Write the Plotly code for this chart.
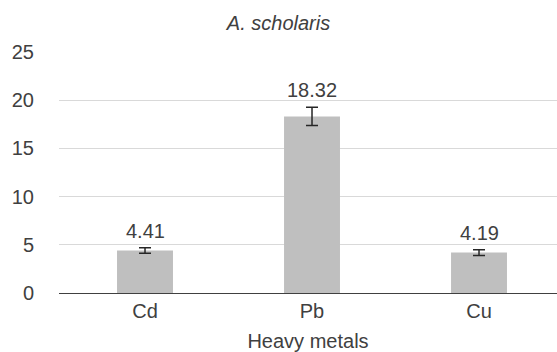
import plotly.graph_objects as go

categories = ["Cd", "Pb", "Cu"]
values = [4.41, 18.32, 4.19]
errors = [0.28, 0.95, 0.29]
label_texts = ["4.41", "18.32", "4.19"]
y_ticks = [0, 5, 10, 15, 20, 25]

FONT = "Liberation Sans, Arial, sans-serif"
TXT = "#404040"

fig = go.Figure()
fig.add_trace(go.Bar(
    x=[0, 1, 2],
    y=values,
    width=0.335,
    marker=dict(color="#BFBFBF", line=dict(width=0)),
    error_y=dict(type="data", array=errors, visible=True,
                 color="#262626", thickness=1.5, width=6),
    hoverinfo="skip",
))

for i, (v, e, t) in enumerate(zip(values, errors, label_texts)):
    fig.add_annotation(x=i, y=v + e, text=t, showarrow=False,
                       yanchor="middle", yshift=17,
                       font=dict(family=FONT, size=20, color=TXT))

fig.update_layout(
    width=557, height=352,
    margin=dict(l=59, r=0, t=52, b=59),
    paper_bgcolor="white", plot_bgcolor="white",
    showlegend=False,
    font=dict(family=FONT, size=20, color=TXT),
    title=dict(text="<i>A. scholaris</i>", x=0.5, xanchor="center",
               y=1 - 23 / 352, yanchor="middle",
               font=dict(family=FONT, size=20, color=TXT)),
    xaxis=dict(
        range=[-0.515, 2.467],
        tickmode="array", tickvals=[0, 1, 2], ticktext=categories,
        showline=True, linecolor="#404040", linewidth=1.3,
        showgrid=False, zeroline=False, ticks="",
        ticklabelstandoff=0,
        tickfont=dict(family=FONT, size=20, color=TXT),
        title=dict(text="Heavy metals", standoff=12,
                   font=dict(family=FONT, size=20, color=TXT)),
        automargin=False,
        fixedrange=True,
    ),
    yaxis=dict(
        range=[0, 25],
        tickmode="array", tickvals=y_ticks,
        showgrid=True, gridcolor="#D9D9D9", gridwidth=1,
        zeroline=False, showline=False, ticks="",
        ticklabelstandoff=24,
        tickfont=dict(family=FONT, size=20, color=TXT),
        automargin=False,
        fixedrange=True,
    ),
)

fig.write_html("out.html", config={"displayModeBar": False},
               post_script="document.body.style.margin='0';document.body.style.padding='0';")
